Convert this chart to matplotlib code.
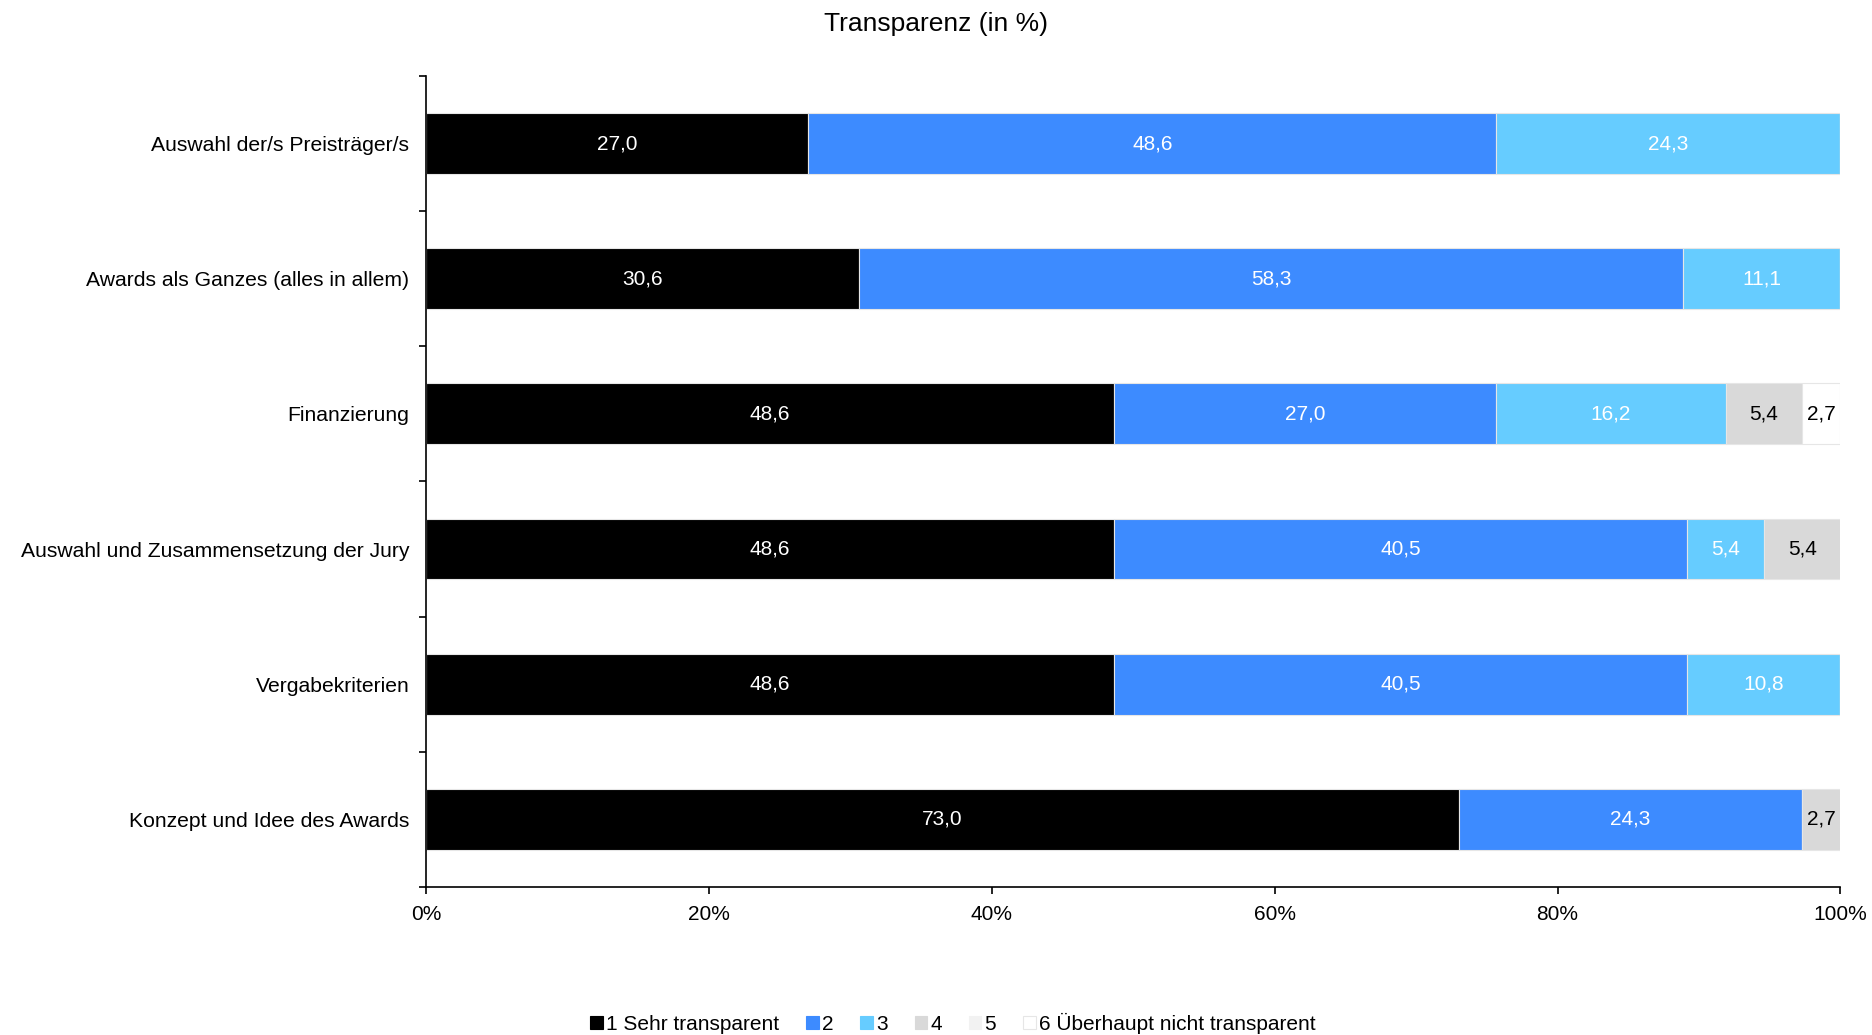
import matplotlib
matplotlib.use("Agg")
import matplotlib.pyplot as plt
from matplotlib.patches import Patch
import numpy as np

plt.rcParams['font.family'] = ['Liberation Sans', 'DejaVu Sans']

categories = [
    "Auswahl der/s Preisträger/s",
    "Awards als Ganzes (alles in allem)",
    "Finanzierung",
    "Auswahl und Zusammensetzung der Jury",
    "Vergabekriterien",
    "Konzept und Idee des Awards",
]
series_names = ["1 Sehr transparent", "2", "3", "4", "5", "6 Überhaupt nicht transparent"]
s1 = [27.0, 30.6, 48.6, 48.6, 48.6, 73.0]
s2 = [48.6, 58.3, 27.0, 40.5, 40.5, 24.3]
s3 = [24.3, 11.1, 16.2, 5.4, 10.8, 0.0]
s4 = [0.0, 0.0, 5.4, 5.4, 0.0, 2.7]
s5 = [0.0, 0.0, 0.0, 0.0, 0.0, 0.0]
s6 = [0.0, 0.0, 2.7, 0.0, 0.0, 0.0]
x_ticks = [0, 20, 40, 60, 80, 100]
x_tick_labels = ["0%", "20%", "40%", "60%", "80%", "100%"]

colors = ["#000000", "#3D8BFF", "#66CCFF", "#D9D9D9", "#F2F2F2", "#FFFFFF"]
text_colors = ["white", "white", "white", "black", "black", "black"]

data = np.array([s1, s2, s3, s4, s5, s6])
shares = data / data.sum(axis=0) * 100  # 100% stacked

fig = plt.figure(figsize=(18.72, 10.35), dpi=100)
ax = fig.add_axes([0.2276, 0.143, 0.7555, 0.7836])

y = np.arange(len(categories))
left = np.zeros(len(categories))
for i, name in enumerate(series_names):
    ax.barh(y, shares[i], left=left, height=0.45, color=colors[i],
            edgecolor="#E6E6E6", linewidth=0.8, label=name)
    for j in range(len(categories)):
        if data[i, j] > 0:
            ax.text(left[j] + shares[i, j] / 2, y[j],
                    f"{data[i, j]:.1f}".replace(".", ","),
                    ha="center", va="center", fontsize=15, color=text_colors[i])
    left += shares[i]

ax.set_xlim(0, 100)
ax.set_ylim(len(categories) - 0.5, -0.5)
ax.set_xticks(x_ticks)
ax.set_xticklabels(x_tick_labels, fontsize=15)
ax.set_yticks(y)
ax.set_yticklabels(categories, fontsize=15.2)
ax.set_yticks(np.arange(-0.5, len(categories)), minor=True)
ax.tick_params(axis="y", which="major", length=0, pad=12)
ax.tick_params(axis="y", which="minor", length=5, width=1.2, direction="out")
ax.tick_params(axis="x", which="major", length=5, width=1.2, direction="out", pad=8)
for side in ("top", "right"):
    ax.spines[side].set_visible(False)
for side in ("left", "bottom"):
    ax.spines[side].set_linewidth(1.2)

fig.text(0.5, 0.977, "Transparenz (in %)", ha="center", va="center", fontsize=19)

handles = [Patch(facecolor=c, edgecolor="#E6E6E6" if c == "#FFFFFF" else c, linewidth=0.8)
           for c in colors]
fig.legend(handles, series_names, loc="center", bbox_to_anchor=(0.509, 0.011),
           ncol=6, frameon=False, fontsize=15, handlelength=0.6, handleheight=0.6,
           handletextpad=0.15, columnspacing=1.3)

fig.savefig("out.png", dpi=100)
